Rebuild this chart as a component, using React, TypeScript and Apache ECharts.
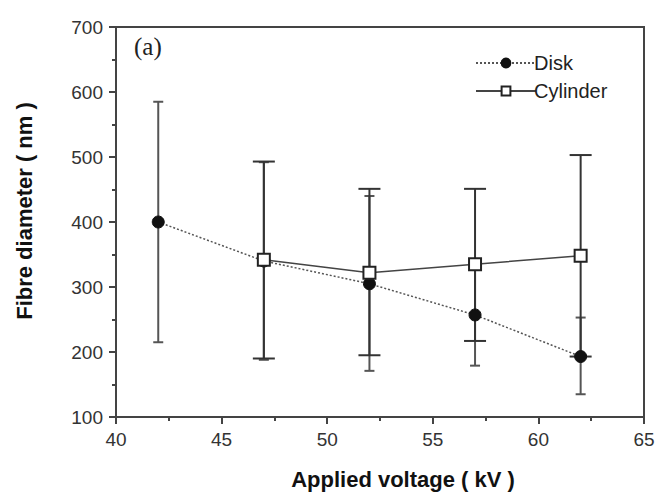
import React, { useEffect, useRef } from "react";
import * as echarts from "echarts";

const diskVoltage = [42, 47, 52, 57, 62];
const diskMean = [400, 340, 305, 257, 193];
const diskLow = [215, 188, 171, 179, 135];
const diskHigh = [585, 492, 440, 335, 253];

const cylVoltage = [47, 52, 57, 62];
const cylMean = [342, 322, 335, 348];
const cylLow = [190, 195, 217, 193];
const cylHigh = [493, 451, 451, 503];

const xTicks = { min: 40, max: 65, interval: 5 };
const yTicks = { min: 100, max: 700, interval: 100 };

function errorRenderer(capHalf: number, color: string, width: number) {
  return (params: any, api: any) => {
    const x = api.value(0);
    const lo = api.coord([x, api.value(1)]);
    const hi = api.coord([x, api.value(2)]);
    const style = { stroke: color, lineWidth: width };
    return {
      type: "group",
      children: [
        { type: "line", shape: { x1: lo[0], y1: lo[1], x2: hi[0], y2: hi[1] }, style },
        { type: "line", shape: { x1: lo[0] - capHalf, y1: lo[1], x2: lo[0] + capHalf, y2: lo[1] }, style },
        { type: "line", shape: { x1: hi[0] - capHalf, y1: hi[1], x2: hi[0] + capHalf, y2: hi[1] }, style },
      ],
    };
  };
}

export default function App() {
  const ref = useRef<HTMLDivElement>(null);
  useEffect(() => {
    if (!ref.current) return;
    const chart = echarts.init(ref.current, undefined, { renderer: "svg" });
    const font = "Arial, 'Liberation Sans', sans-serif";
    const axisCommon = {
      axisLine: { show: true, onZero: false, lineStyle: { color: "#444", width: 2 } },
      axisTick: { show: true, inside: false, length: 7, lineStyle: { color: "#444", width: 2 } },
      minorTick: { show: true, splitNumber: 2, length: 4, lineStyle: { color: "#444", width: 2 } },
      splitLine: { show: false },
      axisLabel: { color: "#333", fontSize: 19, fontFamily: font, margin: 13 },
    };
    chart.setOption({
      animation: false,
      backgroundColor: "#fff",
      grid: { left: 116, right: 15, top: 27, bottom: 75, show: true, borderColor: "#444", borderWidth: 2 },
      xAxis: { type: "value", ...xTicks, ...axisCommon },
      yAxis: { type: "value", ...yTicks, ...axisCommon },
      legend: {
        left: 470,
        top: 48,
        orient: "vertical",
        itemWidth: 60,
        itemHeight: 11,
        itemGap: 8,
        textStyle: { color: "#222", fontSize: 20, fontFamily: font, padding: [0, 0, 0, -7] },
        data: ["Disk", "Cylinder"],
      },
      graphic: [
        {
          type: "text",
          left: 134,
          top: 34,
          style: { text: "(a)", fontSize: 25, fontFamily: "'Liberation Serif', serif", fill: "#222" },
        },
        {
          type: "text",
          x: 403,
          y: 479,
          style: {
            text: "Applied voltage ( kV )",
            fontSize: 22,
            fontWeight: "bold",
            fontFamily: font,
            fill: "#111",
            align: "center",
            verticalAlign: "middle",
          },
        },
        {
          type: "text",
          x: 24,
          y: 211,
          rotation: Math.PI / 2,
          style: {
            text: "Fibre diameter ( nm )",
            fontSize: 22,
            fontWeight: "bold",
            fontFamily: font,
            fill: "#111",
            align: "center",
            verticalAlign: "middle",
          },
        },
      ],
      series: [
        {
          type: "custom",
          name: "diskErr",
          renderItem: errorRenderer(5, "#555", 2),
          data: diskVoltage.map((v, i) => [v, diskLow[i], diskHigh[i]]),
          z: 1,
          silent: true,
        },
        {
          type: "custom",
          name: "cylErr",
          renderItem: errorRenderer(11, "#333", 2),
          data: cylVoltage.map((v, i) => [v, cylLow[i], cylHigh[i]]),
          z: 2,
          silent: true,
        },
        {
          type: "line",
          name: "Disk",
          data: diskVoltage.map((v, i) => [v, diskMean[i]]),
          symbol: "circle",
          symbolSize: 12,
          showAllSymbol: true,
          lineStyle: { color: "#555", width: 1.5, type: [2, 2] },
          itemStyle: { color: "#111", borderColor: "#111", borderWidth: 1 },
          z: 3,
        },
        {
          type: "line",
          name: "Cylinder",
          data: cylVoltage.map((v, i) => [v, cylMean[i]]),
          symbol: "rect",
          symbolSize: 12,
          showAllSymbol: true,
          lineStyle: { color: "#444", width: 1.5, type: "solid" },
          itemStyle: { color: "#fff", borderColor: "#222", borderWidth: 2 },
          z: 4,
        },
      ],
    });
    return () => chart.dispose();
  }, []);
  return <div ref={ref} style={{ width: 659, height: 492, position: "absolute", left: 0, top: 0 }} />;
}
